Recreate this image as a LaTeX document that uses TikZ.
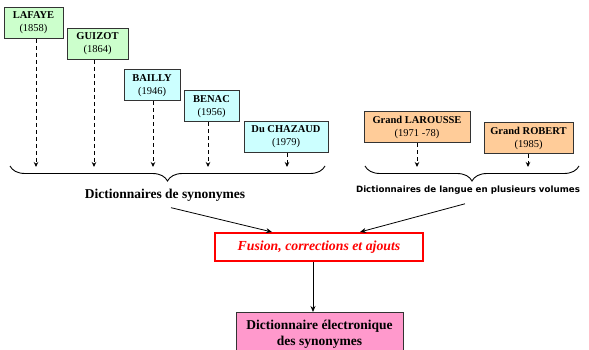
\documentclass[tikz,border=0pt]{standalone}
\usepackage{fontspec}
\setmainfont{Liberation Serif}
\newfontfamily\labelsans{DejaVu Sans}
\usepackage{tikz}
\usetikzlibrary{positioning,arrows.meta,decorations.pathreplacing}

\definecolor{dicgreen}{RGB}{204,255,204}
\definecolor{diccyan}{RGB}{204,255,255}
\definecolor{dicorange}{RGB}{255,204,153}
\definecolor{dicpink}{RGB}{255,153,204}
\definecolor{dicred}{RGB}{255,0,0}

\tikzset{
  dicbox/.style={draw=black!80, line width=1pt, align=center, inner sep=1pt,
    minimum height=31pt, font=\fontsize{10.5}{13}\selectfont},
  dashedarrow/.style={-{Stealth[length=5pt,width=4.5pt]}, line width=1pt, dash pattern=on 4pt off 3pt},
  plainarrow/.style={-{Stealth[length=6pt,width=5pt]}, line width=0.8pt},
  dicbrace/.style={decorate, decoration={brace, mirror, amplitude=15pt}, line width=0.9pt}
}

\begin{document}
\begin{tikzpicture}[x=1pt,y=-1pt]
\useasboundingbox (0,0) rectangle (589,350);
% synonym dictionaries
\node[dicbox, fill=dicgreen, minimum width=59pt] (node_lafaye) at (33.5,23) {\textbf{LAFAYE}\\(1858)};
\node[dicbox, fill=dicgreen, minimum width=61pt] (node_guizot) at (97.5,44) {\textbf{GUIZOT}\\(1864)};
\node[dicbox, fill=diccyan, minimum width=56pt] (node_bailly) at (152,85.5) {\textbf{BAILLY}\\(1946)};
\node[dicbox, fill=diccyan, minimum width=55pt] (node_benac) at (211.5,106.5) {\textbf{BENAC}\\(1956)};
\node[dicbox, fill=diccyan, minimum width=84pt] (node_chazaud) at (286,137) {\textbf{Du CHAZAUD}\\(1979)};
% language dictionaries
\node[dicbox, fill=dicorange, minimum width=106pt] (node_larousse) at (417,127.5) {\textbf{Grand LAROUSSE}\\(1971 -78)};
\node[dicbox, fill=dicorange, minimum width=89pt] (node_robert) at (528.5,138) {\textbf{Grand ROBERT}\\(1985)};

\foreach \src/\xpos in {lafaye/36,guizot/94,bailly/153,benac/208,chazaud/287,larousse/417,robert/528}
  \coordinate (end_\src) at (\xpos,167);
\foreach \src/\dx in {lafaye/2.5,guizot/-3.5,bailly/1,benac/-3.5,chazaud/1,larousse/0,robert/-0.5}
  \draw[dashedarrow] ([xshift=\dx pt]node_\src.south) -- (end_\src);

% braces
\coordinate (brace_a) at (10,166);
\coordinate (brace_b) at (325,166);
\coordinate (brace_c) at (365,166);
\coordinate (brace_d) at (579,166);
\draw[dicbrace] (brace_a) -- (brace_b);
\draw[dicbrace] (brace_c) -- (brace_d);
\node[font=\bfseries\fontsize{13.5}{15}\selectfont] (lbl_syn) at (165,195) {Dictionnaires de synonymes};
\node[font=\labelsans\bfseries\fontsize{8.7}{10}\selectfont] (lbl_lang) at (468,190) {Dictionnaires de langue en plusieurs volumes};

% merge and result
\node[draw=dicred, line width=2pt, minimum width=208pt, minimum height=28pt,
  font=\bfseries\itshape\fontsize{13.8}{15}\selectfont, text=dicred] (node_fusion) at (319,247) {Fusion, corrections et ajouts};
\node[draw=black!80, line width=1pt, fill=dicpink, anchor=north, minimum width=167pt, minimum height=46pt,
  align=center, inner sep=2pt, font=\bfseries\fontsize{13.5}{16.5}\selectfont] (node_final) at (319.5,312)
  {Dictionnaire électronique\\des synonymes\strut};

\draw[plainarrow] ([xshift=6pt,yshift=-3pt]lbl_syn.south) -- ([xshift=-47pt]node_fusion.north);
\draw[plainarrow] ([xshift=-3pt,yshift=-6pt]lbl_lang.south) -- ([xshift=41pt]node_fusion.north);
\draw[plainarrow] ([xshift=-6pt]node_fusion.south) -- ([xshift=-6.5pt]node_final.north);
\end{tikzpicture}
\end{document}
